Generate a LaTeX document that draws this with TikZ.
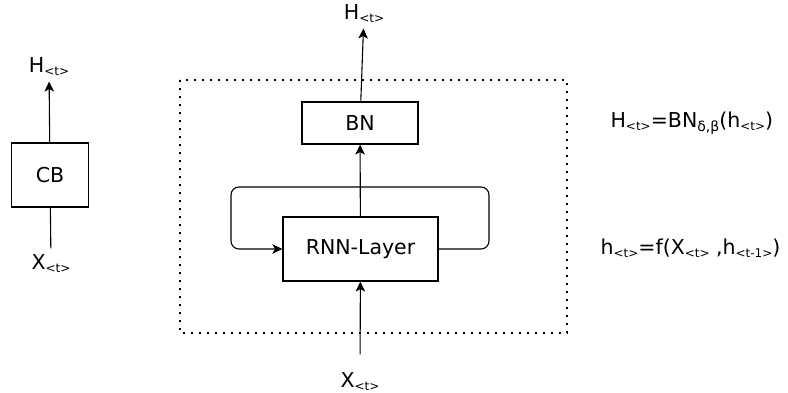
\documentclass[tikz,border=0pt]{standalone}
\usepackage{fontspec}
\setmainfont{DejaVu Sans}
\usetikzlibrary{positioning,arrows.meta}
\newcommand{\tsub}[1]{\raisebox{-3pt}{\fontsize{12}{13}\selectfont#1}}
\newcommand{\gsub}[1]{\raisebox{-4pt}{\fontsize{14}{15}\selectfont#1}}

\begin{document}
\begin{tikzpicture}[x=1pt, y=-1pt, line width=1.1pt, >={Stealth[length=10pt,width=9.5pt,inset=2.5pt]},
  every node/.style={inner sep=2pt, font=\fontsize{20.5}{24}\selectfont},
  block/.style={draw, line width=1.1pt, fill=white},
  eq/.style={anchor=west, font=\fontsize{20.5}{24}\selectfont}]
  \useasboundingbox (0,0) rectangle (788,393);
  % compact block
  \node (cb) [block, minimum width=77pt, minimum height=64pt] at (50,175) {CB};
  \node (hcb) at (49,67) {H\tsub{<t>}};
  \node (xcb) at (51,264) {X\tsub{<t>}};
  \draw[->, shorten >=3pt] (cb) -- (hcb);
  \draw[shorten >=4pt] (cb) -- (xcb);
  % unrolled block
  \draw[line width=1.6pt, dash pattern=on 1.6pt off 6.4pt] (180,80) rectangle (567,333);
  \node (bn) [block, minimum width=116pt, minimum height=42pt] at (360,123) {BN};
  \node (rnn) [block, minimum width=155pt, minimum height=64pt] at (360.5,249) {RNN-Layer};
  \node (hout) at (364,14) {H\tsub{<t>}};
  \node (xin) at (360,382) {X\tsub{<t>}};
  \coordinate (loopr) at (489,187);
  \coordinate (loopl) at (231,249);
  \draw[->, shorten >=3pt] (bn) -- (hout);
  \draw[->] (rnn) -- (bn);
  \draw[->, shorten <=16pt] (xin) -- (rnn);
  \draw[->, rounded corners=8pt] (rnn.east) -| (loopr) -| (loopl) -- (rnn.west);
  % equations
  \node (eqbn) [eq] at (608,123) {H\tsub{<t>}=BN\gsub{δ,β}(h\tsub{<t>})};
  \node (eqrnn) [eq] at (598,248) {h\tsub{<t>}=f(X\tsub{<t>} ,h\tsub{<t-1>})};
\end{tikzpicture}
\end{document}
